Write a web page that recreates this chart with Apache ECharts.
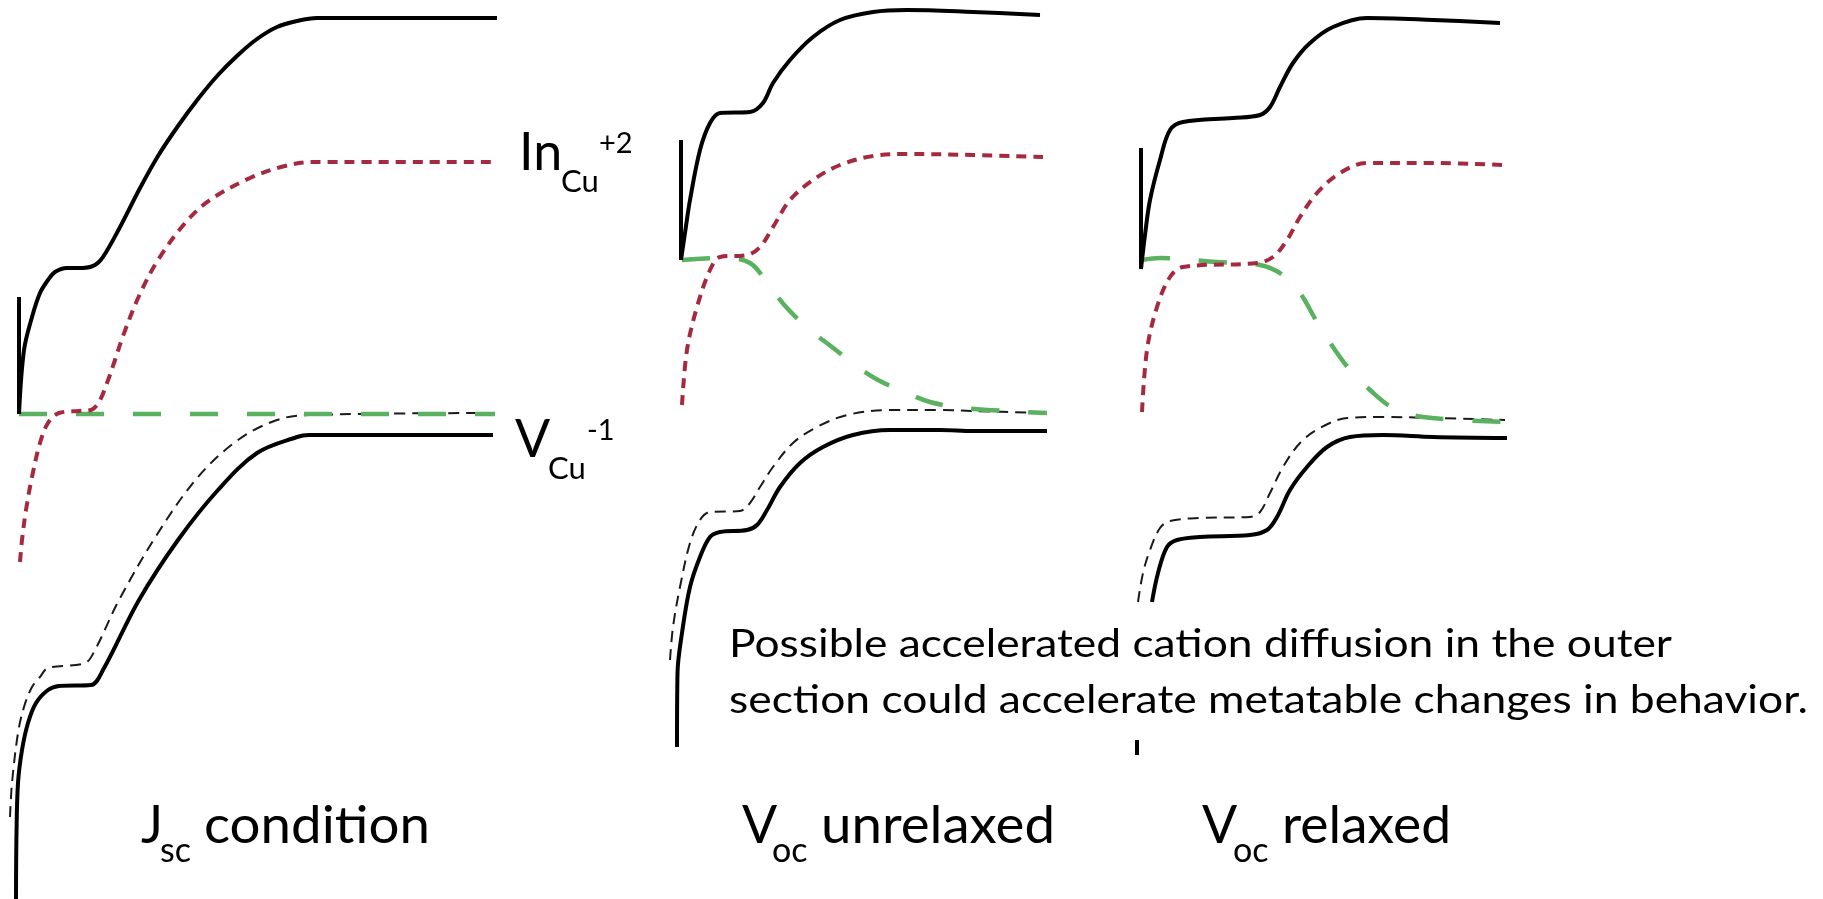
<!DOCTYPE html>
<html>
<head>
<meta charset="utf-8">
<script src="https://cdn.jsdelivr.net/npm/echarts@6/dist/echarts.min.js"></script>
<style>
  html, body { margin: 0; padding: 0; background: #ffffff; }
  #chart { width: 1823px; height: 899px; }
</style>
</head>
<body>
<div id="chart"></div>
<script>
// Band-diagram sketch: three conditions side by side.
// Each point is [depth (a.u.), energy (a.u.)]; energy 0 is the reference (green) level.

// ---- Jsc condition ----
const jscEdge     = [[19, 117], [19, 0]];
const jscUpper    = [[19, 0], [24, 64], [32, 97], [40, 121], [48, 134], [55, 142], [67, 146], [83, 146], [95, 149], [103, 157], [119, 185], [139, 224], [158, 258], [178, 288], [198, 315], [218, 339], [238, 359], [257, 375], [277, 387], [297, 393], [317, 396], [497, 396]];
const jscInCu     = [[20, -148], [22, -126], [26, -96], [32, -63], [40, -29], [48, -9], [59, 1], [79, 3], [91, 4], [99, 12], [107, 31], [115, 54], [123, 78], [139, 118], [158, 154], [186, 192], [210, 214], [250, 236], [285, 248], [313, 252], [497, 252]];
const jscRef      = [[19, 0], [495, 0]];
const jscVCu      = [[10, -403], [12, -369], [18, -319], [24, -293], [32, -273], [40, -263], [48, -254], [85, -249], [95, -236], [119, -186], [158, -119], [198, -63], [238, -26], [277, -6], [309, -1], [495, 1]];
const jscLower    = [[16, -485], [16.5, -419], [18, -369], [22, -336], [28, -309], [36, -289], [48, -276], [59, -272], [91, -271], [103, -256], [139, -186], [178, -126], [218, -76], [257, -39], [297, -23], [309, -21], [493, -21]];

// ---- Voc unrelaxed ----
const unrEdge     = [[41, 274], [41, 154]];
const unrUpper    = [[41, 154], [45, 181], [50, 214], [60, 264], [70, 291], [80, 301], [110, 302], [123, 311], [133, 331], [150, 354], [173, 377], [200, 394], [233, 402], [267, 404], [333, 402], [400, 399]];
const unrInCu     = [[42, 9], [47, 64], [57, 107], [70, 144], [80, 157], [107, 159], [120, 167], [133, 187], [150, 214], [173, 234], [200, 249], [233, 258], [267, 260], [333, 259], [403, 257]];
const unrRef      = [[42, 154], [83, 156], [110, 151], [130, 127], [147, 106], [170, 84], [192, 67], [215, 49], [238, 34], [267, 21], [290, 12], [323, 6], [407, 1]];
const unrVCu      = [[30, -246], [33, -213], [40, -173], [50, -129], [60, -106], [70, -98], [100, -97], [110, -89], [120, -73], [133, -53], [153, -29], [177, -13], [207, -1], [250, 4], [300, 4], [333, 3], [407, 1]];
const unrLower    = [[37, -333], [37.5, -259], [42, -219], [50, -173], [60, -143], [70, -123], [80, -118], [107, -116], [117, -111], [127, -96], [140, -73], [160, -49], [183, -33], [213, -21], [250, -16], [300, -16], [333, -17], [407, -17]];

// ---- Voc relaxed ----
const relEdge     = [[41, 266], [41, 145]];
const relUpper    = [[41, 145], [45, 179], [50, 214], [60, 254], [70, 284], [83, 292], [133, 296], [160, 299], [170, 307], [180, 327], [193, 351], [210, 371], [233, 387], [267, 396], [333, 394], [400, 391]];
const relInCu     = [[42, 2], [47, 64], [57, 107], [70, 137], [83, 147], [157, 151], [173, 157], [187, 174], [200, 197], [217, 221], [240, 241], [267, 251], [333, 251], [403, 249]];
const relRef      = [[42, 154], [60, 156], [117, 152], [160, 149], [183, 139], [200, 121], [217, 92], [233, 67], [250, 44], [270, 24], [293, 6], [323, -3], [405, -8]];
const relVCu      = [[38, -188], [43, -159], [50, -136], [60, -114], [70, -107], [100, -104], [150, -103], [160, -98], [170, -79], [183, -53], [200, -29], [220, -14], [247, -4], [283, -3], [333, -4], [405, -6]];
const relLower    = [[52, -188], [58, -159], [67, -133], [77, -126], [100, -123], [150, -121], [167, -116], [177, -103], [190, -76], [207, -53], [227, -33], [250, -23], [283, -21], [333, -23], [407, -24]];
const relTail     = [[37, -326], [37, -341]];

// Panel captions and labels
const panelTitles = [
  { main: 'J', sub: 'sc', rest: 'condition' },
  { main: 'V', sub: 'oc', rest: 'unrelaxed' },
  { main: 'V', sub: 'oc', rest: 'relaxed' }
];
const noteLines = [
  'Possible accelerated cation diffusion in the outer',
  'section could accelerate metatable changes in behavior.'
];

const BLACK = '#000000';
const RED = '#a52a40';
const GREEN = '#5ab260';
const FONT = 'Lato';

const panelLeft = [0, 640, 1100];

const grids = panelLeft.map(l => ({ left: l, top: 0, width: 500, height: 899 }));
const xAxes = panelLeft.map((l, i) => ({ type: 'value', gridIndex: i, min: 0, max: 500, show: false }));
const yAxes = panelLeft.map((l, i) => ({ type: 'value', gridIndex: i, min: -485, max: 414, show: false }));

function curve(data, panel, ls, z, smooth) {
  return {
    type: 'line', xAxisIndex: panel, yAxisIndex: panel, data: data,
    symbol: 'none', showSymbol: false, silent: true, z: z,
    smooth: smooth === undefined ? 0.35 : smooth,
    lineStyle: Object.assign({ cap: 'butt', join: 'round' }, ls)
  };
}
const solid = { color: BLACK, width: 4, type: 'solid' };
const thinDash = { color: '#1a1a1a', width: 2, type: [11, 7] };
const redDot = { color: RED, width: 4, type: [10, 7] };
const greenDash = { color: GREEN, width: 4.5, type: [28, 29] };

const panelData = [
  { edge: jscEdge, upper: jscUpper, inCu: jscInCu, ref: jscRef, vCu: jscVCu, lower: jscLower },
  { edge: unrEdge, upper: unrUpper, inCu: unrInCu, ref: unrRef, vCu: unrVCu, lower: unrLower },
  { edge: relEdge, upper: relUpper, inCu: relInCu, ref: relRef, vCu: relVCu, lower: relLower }
];

const series = [];
panelData.forEach((p, i) => {
  series.push(curve(p.edge, i, solid, 5, false));
  series.push(curve(p.upper, i, solid, 5));
  series.push(curve(p.lower, i, solid, 5));
  series.push(curve(p.vCu, i, thinDash, 2));
  series.push(curve(p.ref, i, greenDash, 3, p.ref.length > 2 ? 0.35 : false));
  series.push(curve(p.inCu, i, redDot, 4));
});
series.push(curve(relTail, 2, solid, 5, false));

// Text helpers: place text by its left edge and baseline, optionally stretched to a width.
const measureCtx = document.createElement('canvas').getContext('2d');
function textEl(str, x, baseline, size, width) {
  measureCtx.font = size + 'px ' + FONT;
  const w = measureCtx.measureText(str).width;
  const sx = width ? width / w : 1;
  return {
    type: 'text', x: x, y: baseline - 0.37 * size, scaleX: sx, scaleY: 1, silent: true, z: 20,
    style: { text: str, fontFamily: FONT, fontSize: size, fill: BLACK, align: 'left', verticalAlign: 'middle' }
  };
}

const titleLayout = [
  { x: 141, subX: 160, restX: 204, restW: 226 },
  { x: 742, subX: 772, restX: 821, restW: 234 },
  { x: 1202, subX: 1233, restX: 1282, restW: 169 }
];

const graphics = [];
panelTitles.forEach((t, i) => {
  const L = titleLayout[i];
  graphics.push(textEl(t.main, L.x, 845, 52));
  graphics.push(textEl(t.sub, L.subX, 864, 34));
  graphics.push(textEl(t.rest, L.restX, 845, 52, L.restW));
});

// Species labels
graphics.push(textEl('In', 519, 172, 52));
graphics.push(textEl('Cu', 561, 193, 31));
graphics.push(textEl('+2', 599, 154, 29));
graphics.push(textEl('V', 515, 459, 52));
graphics.push(textEl('Cu', 548, 480, 31));
graphics.push(textEl('-1', 587, 441, 29));

// Note block
graphics.push(textEl(noteLines[0], 729, 659, 38, 943));
graphics.push(textEl(noteLines[1], 729, 715, 38, 1079));

const chart = echarts.init(document.getElementById('chart'), null, { renderer: 'canvas' });
chart.setOption({
  animation: false,
  backgroundColor: '#ffffff',
  grid: grids,
  xAxis: xAxes,
  yAxis: yAxes,
  series: series,
  graphic: graphics
});
</script>
</body>
</html>
